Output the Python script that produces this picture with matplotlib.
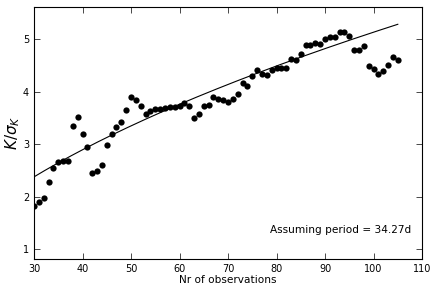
import matplotlib
matplotlib.use("Agg")
import matplotlib.pyplot as plt
import numpy as np

# number of observations used
n_obs = list(range(30, 106))
# K / sigma_K for each subset
k_sig = [1.82, 1.90, 1.97, 2.29, 2.55, 2.67, 2.69, 2.68, 3.34, 3.52,
         3.19, 2.95, 2.45, 2.49, 2.61, 2.98, 3.19, 3.33, 3.43, 3.65,
         3.89, 3.84, 3.72, 3.58, 3.63, 3.67, 3.67, 3.68, 3.71, 3.70,
         3.73, 3.78, 3.73, 3.49, 3.57, 3.72, 3.74, 3.89, 3.86, 3.84,
         3.81, 3.86, 3.96, 4.16, 4.10, 4.29, 4.41, 4.34, 4.32, 4.41,
         4.44, 4.45, 4.45, 4.62, 4.61, 4.72, 4.89, 4.89, 4.93, 4.91,
         5.00, 5.04, 5.04, 5.13, 5.13, 5.06, 4.80, 4.80, 4.87, 4.49,
         4.43, 4.34, 4.39, 4.50, 4.66, 4.61]

# sqrt(N) trend: a*sqrt(N) + b
fit_a = 0.608
fit_b = -0.95

fig = plt.figure(figsize=(4.36, 2.89), dpi=100)
ax = fig.add_axes([0.078, 0.104, 0.89, 0.872])

ax.plot(n_obs, k_sig, 'o', color='black', markersize=4.5, markeredgewidth=0)
nn = np.linspace(30, 105, 200)
ax.plot(nn, fit_a * np.sqrt(nn) + fit_b, '-', color='black', linewidth=0.8)

ax.set_xlim(30, 110)
ax.set_ylim(0.82, 5.61)
ax.set_xticks(range(30, 111, 10))
ax.set_yticks([1, 2, 3, 4, 5])
ax.tick_params(direction='in', top=True, right=True, labelsize=7, length=4, width=0.5)
for s in ax.spines.values():
    s.set_linewidth(0.8)

ax.set_xlabel('Nr of observations', fontsize=7.6, labelpad=1)
ax.set_ylabel(r'$K/\sigma_K$', fontsize=11)
ax.yaxis.set_label_coords(-0.032, 0.5)
ax.text(0.973, 0.115, 'Assuming period = 34.27d', transform=ax.transAxes,
        ha='right', va='center', fontsize=7.6)

fig.savefig('out.png', dpi=100)
